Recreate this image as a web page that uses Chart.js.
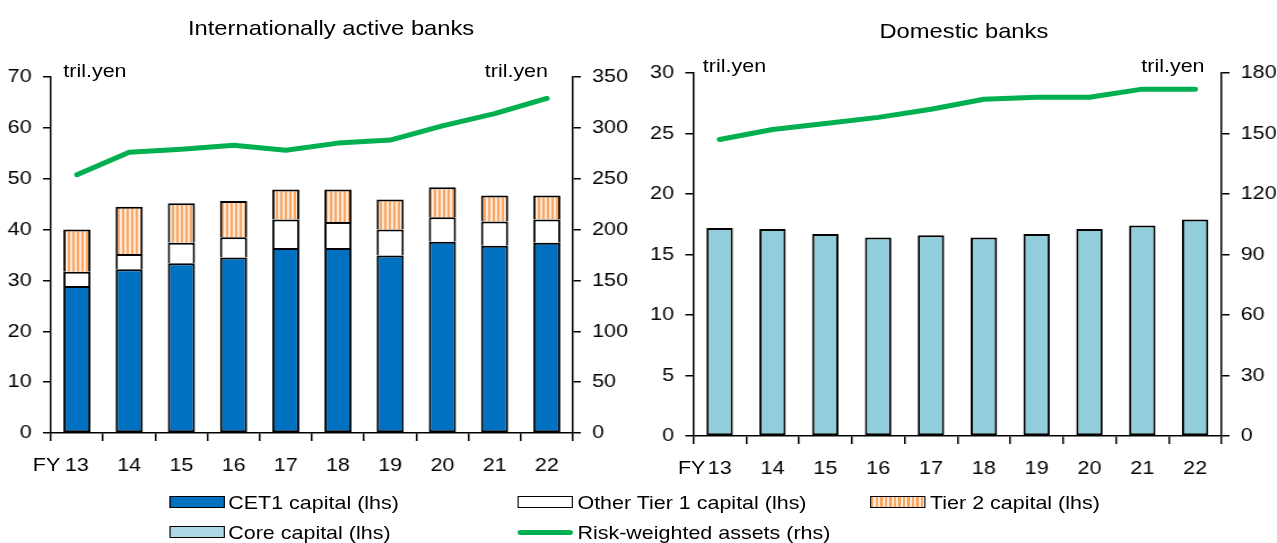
<!DOCTYPE html>
<html>
<head>
<meta charset="utf-8">
<script src="https://cdn.jsdelivr.net/npm/chart.js@4.4.0/dist/chart.umd.min.js"></script>
<style>
html, body { margin: 0; padding: 0; background: #fff; overflow: hidden; }
#wrap { position: absolute; left: 0; top: 0; width: 1130px; height: 543px;
        transform: scaleX(1.13); transform-origin: 0 0;
        font-family: 'Liberation Sans', Arial, sans-serif; color: #000; }
canvas { position: absolute; top: 0; }
.t { position: absolute; white-space: nowrap; line-height: 1; font-size: 19px; }
.title { font-size: 21px; transform: translateX(-50%); }
.box { position: absolute; box-sizing: border-box; width: 49px; height: 12px; border: 1.5px solid #000; }
</style>
</head>
<body>
<div id="wrap">
  <canvas id="intl" width="560" height="480" style="left:0"></canvas>
  <canvas id="dom" width="565" height="480" style="left:565px"></canvas>

  <div class="t title" style="left:293px; top:17px">Internationally active banks</div>
  <div class="t title" style="left:853px; top:20px">Domestic banks</div>

  <div class="t" style="left:56px; top:61px">tril.yen</div>
  <div class="t" style="left:429px; top:61px">tril.yen</div>
  <div class="t" style="left:622px; top:56px">tril.yen</div>
  <div class="t" style="left:1010px; top:56px">tril.yen</div>

  <div class="t" style="left:29px; top:455px">FY</div>
  <div class="t" style="left:600px; top:458px">FY</div>

  <!-- legend -->
  <div class="box" style="left:150px; top:496px; background:#0070C0"></div>
  <div class="t" style="left:202px; top:493px">CET1 capital (lhs)</div>
  <div class="box" style="left:458px; top:496px; background:#fff"></div>
  <div class="t" style="left:511px; top:493px">Other Tier 1 capital (lhs)</div>
  <div class="box" style="left:770px; top:496px; background:repeating-linear-gradient(90deg,#F9A765 0 2px,#FFE9D6 2px 4px)"></div>
  <div class="t" style="left:823px; top:493px">Tier 2 capital (lhs)</div>
  <div class="box" style="left:150px; top:526px; background:#ADD8E4"></div>
  <div class="t" style="left:202px; top:523px">Core capital (lhs)</div>
  <div style="position:absolute; left:458px; top:530px; width:49px; height:5px; border-radius:3px; background:#00B050"></div>
  <div class="t" style="left:511px; top:523px">Risk-weighted assets (rhs)</div>
</div>

<script>
// fiscal years
const years = ['13', '14', '15', '16', '17', '18', '19', '20', '21', '22'];

// Internationally active banks (tril. yen)
const cet1 = [28.9, 32.2, 33.4, 34.5, 36.4, 36.4, 34.9, 37.6, 36.8, 37.4];
const otherTier1 = [2.8, 3.0, 4.0, 4.0, 5.6, 5.1, 5.1, 4.8, 4.8, 4.6];
const tier2 = [8.3, 9.3, 7.8, 7.1, 5.9, 6.4, 5.9, 5.9, 5.1, 4.7];
const rwaIntl = [254, 276, 279, 283, 278, 285, 288, 302, 314, 329];

// Domestic banks (tril. yen)
const coreCapital = [17.2, 17.1, 16.7, 16.4, 16.6, 16.4, 16.7, 17.1, 17.4, 17.9];
const rwaDom = [147, 152, 155, 158, 162, 167, 168, 168, 172, 172];

const FONT = { family: "'Liberation Sans', Arial, sans-serif", size: 19 };

// vertical orange stripes for tier 2
function stripes() {
    const c = document.createElement('canvas');
    c.width = 4; c.height = 4;
    const g = c.getContext('2d');
    g.fillStyle = '#FFE9D6';
    g.fillRect(0, 0, 4, 4);
    g.fillStyle = '#F9A765';
    g.fillRect(0, 0, 2, 4);
    return g.createPattern(c, 'repeat');
}

function yAxis(pos, max, step, width) {
    return {
        position: pos,
        min: 0,
        max: max,
        ticks: { stepSize: step, color: '#000', font: FONT, padding: 10 },
        grid: { drawOnChartArea: false, color: '#000', tickLength: 7, lineWidth: 1.5 },
        border: { color: '#000', width: 1.5 },
        afterFit: function(s) { s.width = width; }
    };
}

function xAxis(height) {
    return {
        stacked: true,
        ticks: { color: '#000', font: FONT, padding: 13 },
        grid: { drawOnChartArea: false, offset: true, color: '#000', tickLength: 8, lineWidth: 1.5 },
        border: { color: '#000', width: 1.5 },
        afterFit: function(s) { s.height = height; }
    };
}

// upper stack segments skip their bottom edge so joins stay single lines
const fullBorder = 2;
const openBottom = { top: 2, left: 2, right: 2, bottom: 0 };

function bar(label, data, color, pct, bw) {
    return {
        type: 'bar', label: label, data: data,
        backgroundColor: color, borderColor: '#000', borderWidth: bw,
        borderSkipped: false, barPercentage: pct, categoryPercentage: 1,
        yAxisID: 'y', order: 2
    };
}

function line(label, data) {
    return {
        type: 'line', label: label, data: data,
        borderColor: '#00B050', borderWidth: 5, pointRadius: 0,
        borderCapStyle: 'round', borderJoinStyle: 'round',
        fill: false, tension: 0, yAxisID: 'y1', order: 1
    };
}

const common = {
    responsive: false,
    animation: false,
    plugins: { legend: { display: false }, tooltip: { enabled: false } }
};

new Chart(document.getElementById('intl'), {
    type: 'bar',
    data: {
        labels: years,
        datasets: [
            bar('CET1 capital (lhs)', cet1, '#0070C0', 0.52, fullBorder),
            bar('Other Tier 1 capital (lhs)', otherTier1, '#FFFFFF', 0.52, openBottom),
            bar('Tier 2 capital (lhs)', tier2, stripes(), 0.52, openBottom),
            line('Risk-weighted assets (rhs)', rwaIntl)
        ]
    },
    options: Object.assign({}, common, {
        layout: { padding: { top: 77, left: 0, right: 0, bottom: 0 } },
        scales: {
            x: xAxis(47),
            y: Object.assign(yAxis('left', 70, 10, 45), { stacked: true }),
            y1: yAxis('right', 350, 50, 53)
        }
    })
});

new Chart(document.getElementById('dom'), {
    type: 'bar',
    data: {
        labels: years,
        datasets: [
            bar('Core capital (lhs)', coreCapital, '#92CDDC', 0.5, fullBorder),
            line('Risk-weighted assets (rhs)', rwaDom)
        ]
    },
    options: Object.assign({}, common, {
        layout: { padding: { top: 73, left: 0, right: 0, bottom: 0 } },
        scales: {
            x: xAxis(44),
            y: Object.assign(yAxis('left', 30, 5, 48.5), { stacked: true }),
            y1: yAxis('right', 180, 30, 49)
        }
    })
});
</script>
</body>
</html>
